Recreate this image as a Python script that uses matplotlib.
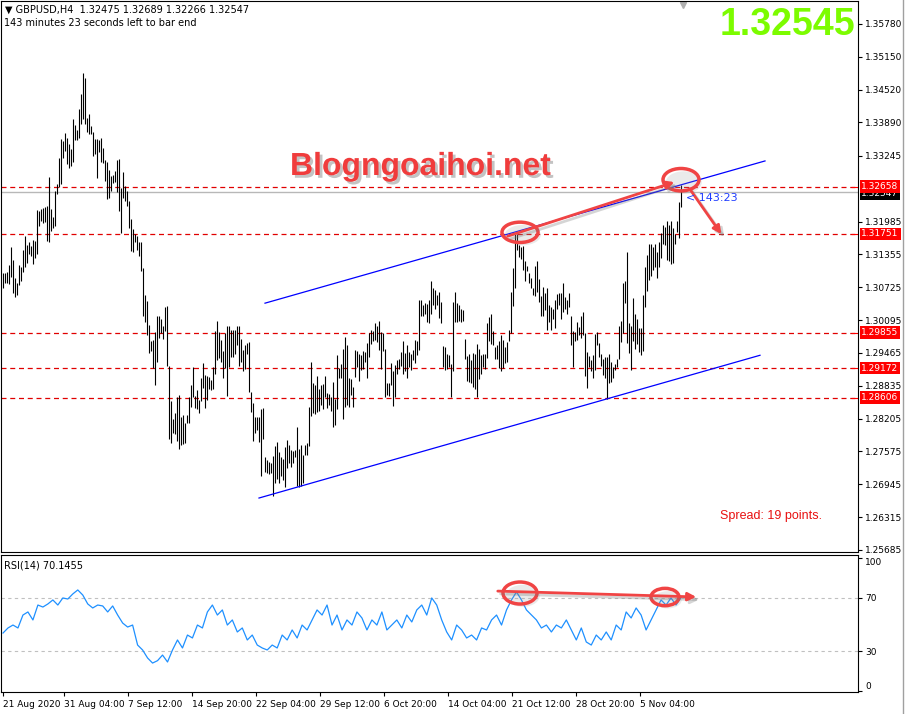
import matplotlib
matplotlib.use("Agg")
import matplotlib.pyplot as plt
import matplotlib.patheffects as pe
import matplotlib.transforms as mtransforms
from matplotlib.patches import Ellipse
from matplotlib.lines import Line2D
import numpy as np

# GBPUSD H4 bars (high / low)
highs = [
    1.3099, 1.3099, 1.3101, 1.3116, 1.3149, 1.3124, 1.3091, 1.3080, 1.3116, 1.3111,
    1.3145, 1.3170, 1.3153, 1.3159, 1.3151, 1.3164, 1.3162, 1.3220, 1.3218, 1.3222,
    1.3224, 1.3226, 1.3229, 1.3284, 1.3222, 1.3208, 1.3258, 1.3271, 1.3321, 1.3357,
    1.3353, 1.3369, 1.3359, 1.3348, 1.3338, 1.3396, 1.3384, 1.3374, 1.3415, 1.3444,
    1.3484, 1.3474, 1.3397, 1.3405, 1.3382, 1.3371, 1.3357, 1.3357, 1.3355, 1.3359,
    1.3340, 1.3317, 1.3313, 1.3298, 1.3286, 1.3288, 1.3296, 1.3317, 1.3319, 1.3263,
    1.3294, 1.3267, 1.3258, 1.3239, 1.3203, 1.3185, 1.3174, 1.3170, 1.3160, 1.3160,
    1.3109, 1.3057, 1.3047, 1.3001, 1.2970, 1.2972, 1.2986, 1.3018, 1.3018, 1.3011,
    1.2999, 1.3034, 1.3036, 1.2922, 1.2854, 1.2820, 1.2831, 1.2862, 1.2866, 1.2823,
    1.2827, 1.2812, 1.2827, 1.2862, 1.2884, 1.2919, 1.2864, 1.2875, 1.2856, 1.2899,
    1.2928, 1.2905, 1.2903, 1.2901, 1.2894, 1.2919, 1.2988, 1.3007, 1.2986, 1.2972,
    1.2951, 1.2984, 1.2999, 1.2999, 1.2991, 1.2991, 1.2990, 1.2999, 1.2999, 1.2974,
    1.2953, 1.2961, 1.2965, 1.2967, 1.2871, 1.2850, 1.2823, 1.2823, 1.2823, 1.2839,
    1.2841, 1.2747, 1.2741, 1.2737, 1.2735, 1.2749, 1.2768, 1.2776, 1.2756, 1.2747,
    1.2743, 1.2766, 1.2779, 1.2770, 1.2760, 1.2758, 1.2760, 1.2804, 1.2762, 1.2770,
    1.2751, 1.2770, 1.2774, 1.2843, 1.2930, 1.2888, 1.2884, 1.2903, 1.2877, 1.2884,
    1.2886, 1.2903, 1.2869, 1.2867, 1.2862, 1.2890, 1.2858, 1.2942, 1.2917, 1.2926,
    1.2955, 1.2978, 1.2961, 1.2899, 1.2896, 1.2881, 1.2953, 1.2951, 1.2945, 1.2942,
    1.2951, 1.2949, 1.2965, 1.2984, 1.2991, 1.2988, 1.3003, 1.2999, 1.3007, 1.2986,
    1.2984, 1.2955, 1.2888, 1.2888, 1.2928, 1.2911, 1.2924, 1.2932, 1.2934, 1.2949,
    1.2970, 1.2947, 1.2961, 1.2949, 1.2944, 1.2953, 1.2972, 1.2969, 1.3049, 1.3049,
    1.3038, 1.3043, 1.3041, 1.3049, 1.3084, 1.3072, 1.3068, 1.3057, 1.3064, 1.3045,
    1.2959, 1.2957, 1.2944, 1.2942, 1.2926, 1.3045, 1.3064, 1.3043, 1.3038, 1.3030,
    1.3028, 1.2974, 1.2940, 1.2945, 1.2932, 1.2947, 1.2945, 1.2963, 1.2955, 1.2942,
    1.2945, 1.2945, 1.3003, 1.3015, 1.3022, 1.2988, 1.2957, 1.2961, 1.2969, 1.2980,
    1.2972, 1.2957, 1.2967, 1.2990, 1.3064, 1.3109, 1.3174, 1.3174, 1.3153, 1.3149,
    1.3151, 1.3122, 1.3114, 1.3099, 1.3091, 1.3072, 1.3114, 1.3122, 1.3089, 1.3055,
    1.3074, 1.3061, 1.3072, 1.3038, 1.3034, 1.3030, 1.3049, 1.3059, 1.3061, 1.3061,
    1.3080, 1.3053, 1.3049, 1.3061, 1.3018, 1.2988, 1.2986, 1.3005, 1.2997, 1.3018,
    1.3026, 1.2984, 1.2949, 1.2940, 1.2932, 1.2942, 1.2982, 1.2986, 1.2965, 1.2945,
    1.2934, 1.2938, 1.2938, 1.2944, 1.2930, 1.2919, 1.2926, 1.2934, 1.2999, 1.3007,
    1.3080, 1.3084, 1.3141, 1.3003, 1.2999, 1.3051, 1.3022, 1.3011, 1.2995, 1.2995,
    1.3057, 1.3111, 1.3135, 1.3155, 1.3155, 1.3149, 1.3155, 1.3141, 1.3160, 1.3176,
    1.3193, 1.3189, 1.3199, 1.3193, 1.3199, 1.3187, 1.3174, 1.3199, 1.3237, 1.32689,
]
lows = [
    1.3072, 1.3080, 1.3080, 1.3078, 1.3093, 1.3061, 1.3053, 1.3057, 1.3076, 1.3084,
    1.3101, 1.3111, 1.3120, 1.3137, 1.3132, 1.3118, 1.3128, 1.3137, 1.3191, 1.3199,
    1.3195, 1.3197, 1.3162, 1.3160, 1.3180, 1.3187, 1.3191, 1.3252, 1.3265, 1.3271,
    1.3321, 1.3334, 1.3309, 1.3302, 1.3305, 1.3313, 1.3355, 1.3355, 1.3359, 1.3386,
    1.3396, 1.3386, 1.3371, 1.3367, 1.3367, 1.3325, 1.3329, 1.3282, 1.3332, 1.3313,
    1.3311, 1.3277, 1.3242, 1.3244, 1.3258, 1.3273, 1.3275, 1.3256, 1.3218, 1.3176,
    1.3244, 1.3239, 1.3229, 1.3187, 1.3143, 1.3141, 1.3160, 1.3145, 1.3132, 1.3103,
    1.3018, 1.3005, 1.2980, 1.2947, 1.2951, 1.2917, 1.2884, 1.2930, 1.2976, 1.2984,
    1.2974, 1.2988, 1.2922, 1.2781, 1.2774, 1.2793, 1.2790, 1.2777, 1.2762, 1.2770,
    1.2772, 1.2774, 1.2812, 1.2812, 1.2843, 1.2862, 1.2841, 1.2839, 1.2831, 1.2854,
    1.2879, 1.2841, 1.2856, 1.2877, 1.2875, 1.2877, 1.2907, 1.2932, 1.2936, 1.2930,
    1.2899, 1.2917, 1.2864, 1.2919, 1.2938, 1.2938, 1.2945, 1.2961, 1.2922, 1.2930,
    1.2911, 1.2915, 1.2944, 1.2871, 1.2833, 1.2777, 1.2793, 1.2799, 1.2776, 1.2710,
    1.2781, 1.2718, 1.2716, 1.2714, 1.2716, 1.2672, 1.2697, 1.2705, 1.2697, 1.2710,
    1.2703, 1.2689, 1.2726, 1.2735, 1.2728, 1.2735, 1.2747, 1.2691, 1.2689, 1.2691,
    1.2697, 1.2751, 1.2751, 1.2768, 1.2825, 1.2831, 1.2829, 1.2833, 1.2835, 1.2846,
    1.2839, 1.2862, 1.2841, 1.2846, 1.2835, 1.2804, 1.2808, 1.2839, 1.2899, 1.2899,
    1.2820, 1.2843, 1.2846, 1.2843, 1.2866, 1.2843, 1.2901, 1.2919, 1.2892, 1.2913,
    1.2915, 1.2930, 1.2898, 1.2938, 1.2963, 1.2969, 1.2972, 1.2967, 1.2953, 1.2915,
    1.2951, 1.2862, 1.2866, 1.2864, 1.2884, 1.2845, 1.2862, 1.2907, 1.2915, 1.2921,
    1.2907, 1.2911, 1.2898, 1.2919, 1.2913, 1.2932, 1.2928, 1.2942, 1.2953, 1.3018,
    1.3018, 1.3022, 1.3005, 1.3003, 1.3022, 1.3038, 1.3030, 1.3038, 1.3013, 1.3003,
    1.2919, 1.2913, 1.2915, 1.2919, 1.2862, 1.2911, 1.3005, 1.3005, 1.3007, 1.3005,
    1.3007, 1.2934, 1.2892, 1.2890, 1.2888, 1.2881, 1.2877, 1.2862, 1.2896, 1.2907,
    1.2919, 1.2915, 1.2936, 1.2969, 1.2963, 1.2961, 1.2934, 1.2934, 1.2917, 1.2911,
    1.2917, 1.2928, 1.2930, 1.2969, 1.2984, 1.3036, 1.3072, 1.3145, 1.3130, 1.3126,
    1.3105, 1.3084, 1.3103, 1.3080, 1.3072, 1.3057, 1.3055, 1.3064, 1.3045, 1.3018,
    1.3018, 1.3028, 1.2991, 1.3005, 1.2991, 1.3011, 1.2995, 1.3030, 1.3038, 1.3011,
    1.3026, 1.3030, 1.3022, 1.3034, 1.2961, 1.2919, 1.2970, 1.2972, 1.2980, 1.2976,
    1.2980, 1.2903, 1.2879, 1.2919, 1.2911, 1.2899, 1.2913, 1.2961, 1.2938, 1.2921,
    1.2905, 1.2899, 1.2858, 1.2888, 1.2890, 1.2899, 1.2913, 1.2919, 1.2934, 1.2967,
    1.2984, 1.3043, 1.2965, 1.2947, 1.2913, 1.2970, 1.2955, 1.2963, 1.2949, 1.2942,
    1.2951, 1.3034, 1.3066, 1.3087, 1.3095, 1.3105, 1.3111, 1.3091, 1.3111, 1.3128,
    1.3155, 1.3153, 1.3124, 1.3122, 1.3118, 1.3120, 1.3155, 1.3178, 1.3168, 1.32266,
]

# RSI(14), read roughly every 2.5 bars across the whole history
rsi_vals = [
    43.5, 47.3, 49.5, 47.3, 57.0, 59.3, 53.3, 64.5, 63.0, 65.3,
    68.3, 64.5, 69.8, 69.0, 72.8, 75.8, 72.0, 65.3, 62.3, 64.5,
    63.8, 59.3, 63.8, 57.0, 51.0, 48.0, 49.5, 34.5, 30.8, 24.8,
    21.0, 22.8, 27.0, 21.8, 30.8, 38.3, 32.3, 42.0, 39.8, 49.5,
    47.3, 59.3, 64.5, 57.0, 60.8, 49.5, 53.3, 44.3, 47.3, 38.3,
    42.0, 34.5, 32.3, 30.8, 34.5, 32.3, 42.0, 38.3, 45.8, 39.8,
    49.5, 45.8, 53.3, 60.8, 57.0, 64.5, 49.5, 57.0, 45.8, 53.3,
    49.5, 59.3, 54.8, 45.8, 53.3, 49.5, 59.3, 45.8, 49.5, 53.3,
    47.3, 57.0, 51.8, 60.8, 64.5, 57.0, 69.8, 64.5, 53.3, 44.3,
    38.3, 49.5, 45.8, 39.8, 42.0, 38.3, 47.3, 45.8, 53.3, 57.0,
    49.5, 60.8, 68.3, 74.3, 68.3, 60.8, 57.0, 53.3, 47.3, 49.5,
    44.3, 49.5, 47.3, 53.3, 45.8, 38.3, 47.3, 36.8, 34.5, 42.0,
    38.3, 44.3, 38.3, 49.5, 45.8, 59.3, 54.8, 62.3, 57.0, 45.8,
    53.3, 60.8, 68.3, 64.5, 69.8, 64.5, 70.1,
]

price_ticks = [1.35780, 1.35150, 1.34520, 1.33890, 1.33245, 1.31985, 1.31355, 1.30725,
               1.30095, 1.29465, 1.28835, 1.28205, 1.27575, 1.26945, 1.26315, 1.25685]
level_prices = [1.32658, 1.31751, 1.29855, 1.29172, 1.28606]
bid_price = 1.32547
rsi_levels = [70, 30]

date_ticks = [0, 30.5, 62.5, 94.5, 126.5, 158.5, 190.5, 222.5, 254.5, 286.5, 318.5]
date_labels = ['21 Aug 2020', '31 Aug 04:00', '7 Sep 12:00', '14 Sep 20:00', '22 Sep 04:00',
               '29 Sep 12:00', '6 Oct 20:00', '14 Oct 04:00', '21 Oct 12:00', '28 Oct 20:00',
               '5 Nov 04:00']

# trend channel anchors (bar index, price)
channel_upper = ([131, 381], [1.3042, 1.3315])
channel_lower = ([128, 378.5], [1.2668, 1.2942])

W, H = 905, 714
fig = plt.figure(figsize=(W / 100, H / 100), dpi=100)
fig.patch.set_facecolor('white')
tick_fs = 6.5

# ---- price panel ----
ax = fig.add_axes([1 / W, 1 - 552 / H, 857 / W, 551 / H])
ax.set_xlim(-1, 427.5)
ax.set_ylim(1.25644, 1.3622)

bar_idx = np.arange(len(highs))
ax.vlines(bar_idx, lows, highs, color='black', lw=0.8, zorder=3)

for p in level_prices:
    ax.axhline(p, color='#e00000', lw=0.9, ls=(0, (4, 3)), zorder=2)
ax.axhline(bid_price, color='#b8b8b8', lw=1.0, zorder=1)

ax.plot(*channel_upper, color='#0000ff', lw=0.9, zorder=4)
ax.plot(*channel_lower, color='#0000ff', lw=0.9, zorder=4)

ax.yaxis.tick_right()
ax.set_yticks(price_ticks)
ax.set_yticklabels([f'{t:.5f}' for t in price_ticks])
ax.tick_params(axis='y', direction='out', length=3, pad=2, labelsize=tick_fs, width=0.8)
ax.set_xticks([])
for s in ax.spines.values():
    s.set_color('black')
    s.set_linewidth(0.8)

# price tags on the scale
ytrans = ax.get_yaxis_transform()
ax.text(1.004, bid_price - 0.0003, f'{bid_price:.5f}', transform=ytrans, color='white',
        fontsize=tick_fs, va='center', ha='left', clip_on=False, zorder=5,
        bbox=dict(boxstyle='square,pad=0.2', fc='black', ec='none'))
for p in level_prices:
    ax.text(1.004, p, f'{p:.5f}', transform=ytrans, color='white', fontsize=tick_fs,
            va='center', ha='left', clip_on=False, zorder=6,
            bbox=dict(boxstyle='square,pad=0.2', fc='#ff0000', ec='none'))
    ax.plot([0.993, 0.999], [p, p], transform=ytrans, color='#ff0000', lw=0.8, clip_on=False)

# chart shift marker
ax.plot([340], [0.993], marker='v', ms=5, color='#b0b0b0',
        transform=mtransforms.blended_transform_factory(ax.transData, ax.transAxes), clip_on=False)

# red hand-drawn annotations
red = '#f04444'
shadow = [pe.SimplePatchShadow(offset=(2, -2), shadow_rgbFace='#999999', alpha=0.2), pe.Normal()]
lshadow = [pe.SimpleLineShadow(offset=(2, -2), shadow_color='#777777', alpha=0.3), pe.Normal()]
for (cx, cy, ew, eh) in [(258.5, 1.3178, 18, 0.0039), (339, 1.3279, 18, 0.0043)]:
    ax.add_patch(Ellipse((cx, cy), ew, eh, fill=False, ec=red, lw=2.5, zorder=7, path_effects=shadow))
ax.annotate('', xy=(337, 1.3276), xytext=(251, 1.3169), zorder=7,
            arrowprops=dict(arrowstyle='-|>', color=red, lw=2.0, mutation_scale=12, path_effects=lshadow))
ax.annotate('', xy=(360, 1.3170), xytext=(342.5, 1.3266), zorder=7,
            arrowprops=dict(arrowstyle='-|>', color=red, lw=2.0, mutation_scale=12, path_effects=lshadow))

# ---- RSI panel ----
ax2 = fig.add_axes([1 / W, 1 - 692 / H, 857 / W, 137 / H])
ax2.set_xlim(-1, 427.5)
ax2.set_ylim(-0.7, 102)
rsi_idx = np.linspace(0, len(highs) - 1, len(rsi_vals))
ax2.plot(rsi_idx, rsi_vals, color='#1e90ff', lw=0.9, zorder=3)
for lv in rsi_levels:
    ax2.axhline(lv, color='#c0c0c0', lw=0.8, ls=(0, (3, 3)), zorder=1)
ax2.yaxis.tick_right()
ax2.set_yticks([0, 30, 70, 100])
ax2.set_yticklabels(['0', '30', '70', '100'])
ax2.tick_params(axis='y', direction='out', length=3, pad=2, labelsize=tick_fs, width=0.8)
yt = ax2.yaxis.get_major_ticks()
yt[0].label2.set_va('bottom')
yt[3].label2.set_va('top')
ax2.set_xticks(date_ticks)
ax2.set_xticklabels(date_labels, ha='left')
ax2.tick_params(axis='x', direction='out', length=3, pad=3, labelsize=tick_fs, width=0.8)
for s in ax2.spines.values():
    s.set_color('black')
    s.set_linewidth(0.8)

for (cx, cy, ew, eh) in [(258.5, 73.5, 17, 16.5), (331, 70.5, 14, 13)]:
    ax2.add_patch(Ellipse((cx, cy), ew, eh, fill=False, ec=red, lw=2.5, zorder=7, path_effects=shadow))
ax2.annotate('', xy=(348, 70.5), xytext=(246, 75), zorder=7,
             arrowprops=dict(arrowstyle='-|>', color=red, lw=2.0, mutation_scale=12, path_effects=lshadow))

# ---- texts ----
fig.text(5 / W, 1 - 10 / H, '\u25bc GBPUSD,H4  1.32475 1.32689 1.32266 1.32547', fontsize=7, va='center')
fig.text(4 / W, 1 - 23 / H, '143 minutes 23 seconds left to bar end', fontsize=7, va='center')
fig.text(4 / W, 1 - 565 / H, 'RSI(14) 70.1455', fontsize=7, va='center')
fig.text(855 / W, 1 - 25 / H, '1.32545', fontsize=27, weight='bold', color='#7cfc00',
         ha='right', va='center', family='Liberation Sans')
fig.text(290 / W, 1 - 167 / H, 'Blogngoaihoi.net', fontsize=23, weight='bold', color='#f03c3c',
         va='center', family='Liberation Sans',
         path_effects=[pe.withSimplePatchShadow(offset=(2, -2), shadow_rgbFace='#888888', alpha=0.5)])
fig.text(720 / W, 1 - 516 / H, 'Spread: 19 points.', fontsize=9, color='#e81010', va='center',
         family='Liberation Sans')
fig.text(686 / W, 1 - 198 / H, '< 143:23', fontsize=8, color='#1f3cff', va='center')

fig.add_artist(Line2D([903 / W, 903 / W], [0, 1], color='#a0a0a0', lw=1))

fig.savefig('out.png', dpi=100)
